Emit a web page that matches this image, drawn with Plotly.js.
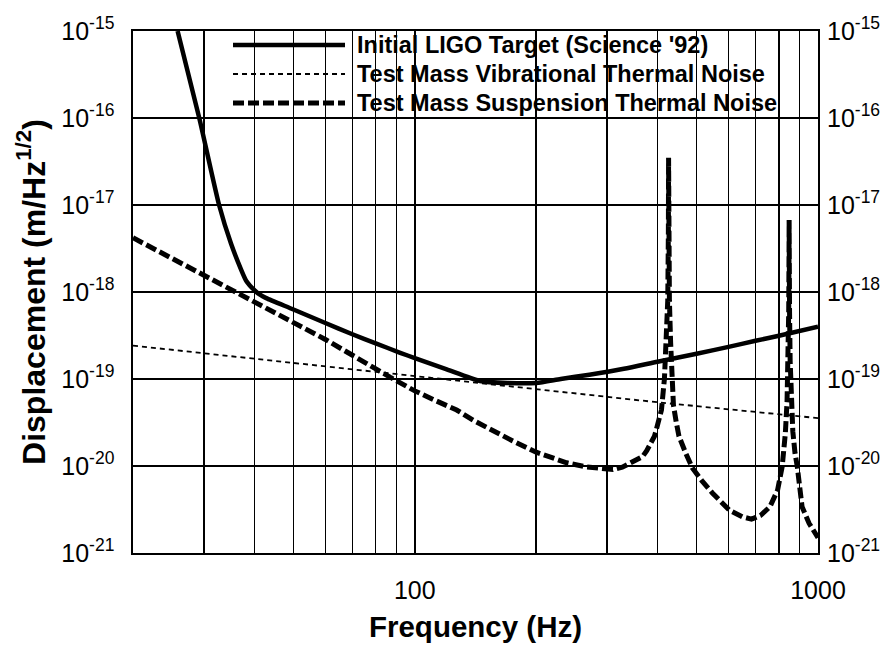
<!DOCTYPE html>
<html>
<head>
<meta charset="utf-8">
<script src="https://cdn.plot.ly/plotly-3.0.1.min.js"></script>
<style>html,body{margin:0;padding:0;background:#fff}#chart{width:883px;height:645px}</style>
</head>
<body>
<div id="chart"></div>
<script>
// Initial LIGO Target (Science '92)
const freqTarget = [25.8, 29.2, 32.7, 35.0, 37.1, 38.2, 40.0, 41.3, 42.8, 50, 60, 70, 80, 92, 100, 120, 145, 170, 200, 230, 271, 330, 400, 500, 600, 700, 800, 1000];
const ligoTarget = [1e-15, 1e-16, 1e-17, 3.6e-18, 1.8e-18, 1.34e-18, 1.05e-18, 9.3e-19, 8.5e-19, 6.3e-19, 4.4e-19, 3.27e-19, 2.57e-19, 2.0e-19, 1.74e-19, 1.29e-19, 9.5e-20, 9.0e-20, 9.0e-20, 1.0e-19, 1.12e-19, 1.31e-19, 1.58e-19, 1.95e-19, 2.34e-19, 2.75e-19, 3.14e-19, 4.0e-19];

// Test Mass Vibrational Thermal Noise
const freqVib = [20, 50, 100, 200, 400, 1000];
const vibNoise = [2.42e-19, 1.53e-19, 1.08e-19, 7.7e-20, 5.4e-20, 3.55e-20];

// Test Mass Suspension Thermal Noise
const freqSusp = [20, 30, 40, 60, 86.8, 100, 113, 127, 140, 153, 175, 200, 238, 265, 287, 310, 327, 341, 367, 376, 393, 397, 404, 409, 416, 421, 424, 425.5, 426, 426.5, 428, 431, 434, 438, 445, 452, 470, 488, 515, 547, 603, 650, 684, 720, 760, 794, 815, 830, 838, 843, 846, 847.5, 848, 848.5, 850, 853, 858, 866, 877, 888, 913, 950, 1000];
const suspNoise = [4.2e-18, 1.56e-18, 7.8e-19, 2.85e-19, 1.05e-19, 7.3e-20, 5.6e-20, 4.4e-20, 3.33e-20, 2.66e-20, 1.94e-20, 1.44e-20, 1.09e-20, 9.8e-21, 9.3e-21, 9.1e-21, 9.7e-21, 1.07e-20, 1.28e-20, 1.5e-20, 2.2e-20, 2.6e-20, 3.4e-20, 4.4e-20, 1.0e-19, 2.6e-19, 8e-19, 5e-18, 3.5e-17, 5e-18, 8e-19, 2.6e-19, 1.0e-19, 5e-20, 3.2e-20, 2.2e-20, 1.4e-20, 9.5e-21, 6.8e-21, 4.9e-21, 3.1e-21, 2.6e-21, 2.45e-21, 2.7e-21, 3.4e-21, 5.3e-21, 9.8e-21, 2.4e-20, 5.5e-20, 1.6e-19, 6e-19, 3e-18, 6.7e-18, 3e-18, 6e-19, 1.6e-19, 6e-20, 2.5e-20, 1.4e-20, 1e-20, 3.4e-21, 2.2e-21, 1.5e-21];

const seriesNames = ["Initial LIGO Target (Science '92)", "Test Mass Vibrational Thermal Noise", "Test Mass Suspension Thermal Noise"];

// axis ticks / grid
const xTickVals = [100, 1000];
const xTickText = ["100", "1000"];
const xMinorGrid = [30, 40, 50, 60, 70, 80, 90, 200, 300, 400, 500, 600, 700, 800, 900];
const yTickVals = [1e-21, 1e-20, 1e-19, 1e-18, 1e-17, 1e-16, 1e-15];
const yTickText = ["10<sup>-21</sup>", "10<sup>-20</sup>", "10<sup>-19</sup>", "10<sup>-18</sup>", "10<sup>-17</sup>", "10<sup>-16</sup>", "10<sup>-15</sup>"];

const FONT = "'Liberation Sans', Arial, Helvetica, sans-serif";

const styles = [
  {color: "#000", width: 4.5, dash: "solid"},
  {color: "#000", width: 1.8, dash: "5px,4px"},
  {color: "#000", width: 5, dash: "11px,4px"}
];

const traces = [
  {x: freqTarget, y: ligoTarget, name: seriesNames[0], mode: "lines",
   line: Object.assign({}, styles[0], {shape: "spline", smoothing: 0.6})},
  {x: freqVib, y: vibNoise, name: seriesNames[1], mode: "lines", yaxis: "y2",
   line: styles[1]},
  {x: freqSusp, y: suspNoise, name: seriesNames[2], mode: "lines",
   line: styles[2]}
];

// hand-drawn key (long line samples as in the original figure)
const keyRowsY = [0.9732, 0.9176, 0.8621];
const keyX0 = 0.146, keyX1 = 0.3095, keyTextX = 0.324;
const shapes = keyRowsY.map((yy, i) => ({
  type: "line", xref: "paper", yref: "paper", x0: keyX0, x1: keyX1, y0: yy, y1: yy,
  line: {color: styles[i].color, width: styles[i].width, dash: styles[i].dash}
}));
const annotations = keyRowsY.map((yy, i) => ({
  xref: "paper", yref: "paper", x: keyTextX, y: yy, xanchor: "left", yanchor: "middle",
  text: seriesNames[i], showarrow: false,
  font: {family: FONT, size: 23.5, color: "#000", weight: "bold"}
}));

const layout = {
  width: 883, height: 645,
  margin: {l: 133, r: 65, t: 31, b: 92},
  paper_bgcolor: "#fff", plot_bgcolor: "#fff",
  font: {family: FONT, color: "#000", size: 25},
  showlegend: false,
  shapes: shapes,
  annotations: annotations,
  xaxis: {type: "log", range: [Math.log10(20), 3],
    tickmode: "array", tickvals: xTickVals, ticktext: xTickText,
    ticks: "outside", ticklen: 14, tickcolor: "rgba(0,0,0,0)",
    tickfont: {family: FONT, size: 25},
    showgrid: true, gridcolor: "#000", gridwidth: 1.4,
    minor: {tickmode: "array", tickvals: xMinorGrid, showgrid: true, gridcolor: "#000", gridwidth: 1.4, ticks: ""},
    showline: true, linecolor: "#000", linewidth: 1.6, mirror: true,
    zeroline: false,
    title: {text: "Frequency (Hz)", font: {family: FONT, size: 29.5, weight: "bold"}, standoff: 14}},
  yaxis: {type: "log", range: [-21, -15],
    tickmode: "array", tickvals: yTickVals, ticktext: yTickText,
    ticks: "outside", ticklen: 12, tickcolor: "rgba(0,0,0,0)",
    tickfont: {family: FONT, size: 25},
    showgrid: true, gridcolor: "#000", gridwidth: 1.4,
    showline: true, linecolor: "#000", linewidth: 1.6, mirror: true,
    zeroline: false,
    title: {text: "Displacement (m/Hz<sup>1/2</sup>)", font: {family: FONT, size: 32, weight: "bold"}, standoff: 6}},
  yaxis2: {type: "log", range: [-21, -15], overlaying: "y", side: "right", anchor: "x",
    tickmode: "array", tickvals: yTickVals, ticktext: yTickText,
    ticks: "outside", ticklen: 3, tickcolor: "rgba(0,0,0,0)",
    tickfont: {family: FONT, size: 25},
    showgrid: false, zeroline: false, showline: false}
};

Plotly.newPlot("chart", traces, layout, {displayModeBar: false, staticPlot: true});
</script>
</body>
</html>
